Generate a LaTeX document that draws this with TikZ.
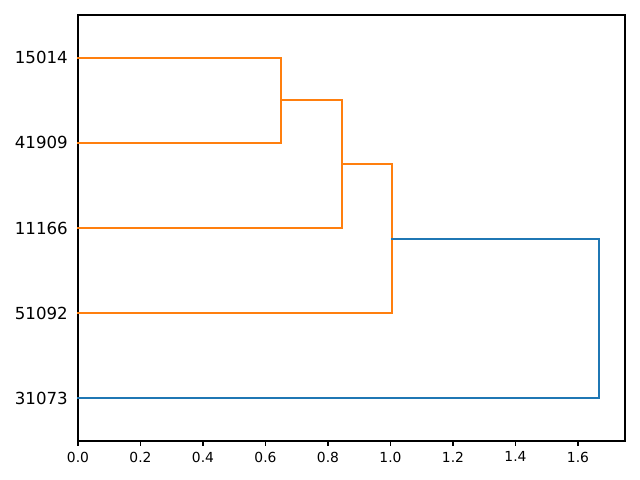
\documentclass[tikz,border=0pt]{standalone}
\usepackage{fontspec}
\setmainfont{DejaVu Sans}
\definecolor{mplorange}{HTML}{FF7F0E}
\definecolor{mplblue}{HTML}{1F77B4}
\begin{document}
\begin{tikzpicture}[x=0.01in,y=-0.01in,
  link/.style={line width=1.5pt,line cap=rect,line join=miter},
  ylab/.style={anchor=east,inner sep=0pt,font=\fontsize{12}{14}\selectfont},
  xlab/.style={anchor=north,inner sep=0pt,font=\fontsize{10}{12}\selectfont},
  frame/.style={line width=0.8pt,line join=miter}]
\useasboundingbox (0,0) rectangle (640,480);
% axes frame
\draw[frame] (78,15) rectangle (625,441);
% leaf positions (y = 441 - v*8.52)
\coordinate (L1) at (78,57.6);   % 15014
\coordinate (L2) at (78,142.8);  % 41909
\coordinate (L3) at (78,228.0);  % 11166
\coordinate (L4) at (78,313.2);  % 51092
\coordinate (L5) at (78,398.4);  % 31073
% merge heights x = 78 + d*312.5
\coordinate (A1) at (281,57.6);
\coordinate (A2) at (281,142.8);
\coordinate (B1) at (342,100.2);
\coordinate (B2) at (342,228.0);
\coordinate (C1) at (392,164.1);
\coordinate (C2) at (392,313.2);
\coordinate (D1) at (599,238.7);
\coordinate (D2) at (599,398.4);
\draw[link,mplorange] (L1) -- (A1) -- (A2) -- (L2);
\draw[link,mplorange] (L1 |- B1) ++(203,0) -- (B1) -- (B2) -- (L3);
\draw[link,mplorange] (342,164.1) -- (C1) -- (C2) -- (L4);
\draw[link,mplblue] (392,238.7) -- (D1) -- (D2) -- (L5);
% y labels
\node[ylab] (t1) at (68,57.6) {15014};
\node[ylab] (t2) at (68,142.8) {41909};
\node[ylab] (t3) at (68,228.0) {11166};
\node[ylab] (t4) at (68,313.2) {51092};
\node[ylab] (t5) at (68,398.4) {31073};
% x ticks
\foreach \v/\lab [count=\i] in {0/0.0,0.2/0.2,0.4/0.4,0.6/0.6,0.8/0.8,1.0/1.0,1.2/1.2,1.4/1.4,1.6/1.6}{
  \pgfmathsetmacro{\px}{78+\v*312.5}
  \draw[line width=0.8pt] (\px,441) -- (\px,445.9);
  \node[xlab] (x\i) at (\px,451.5) {\lab};
}
\end{tikzpicture}
\end{document}
